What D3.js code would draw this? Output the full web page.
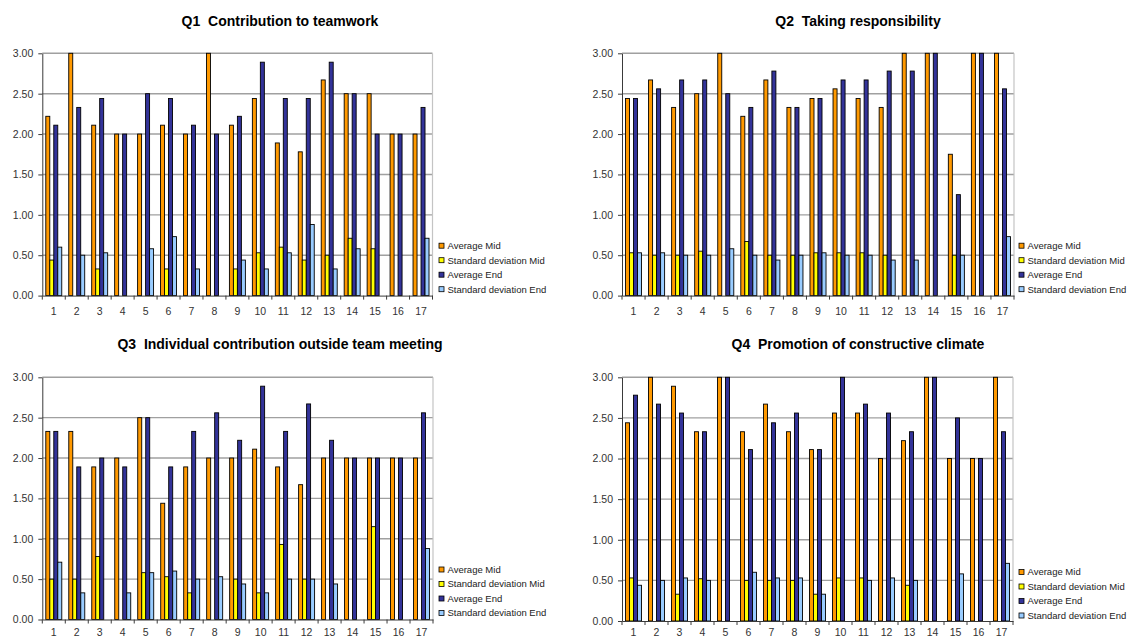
<!DOCTYPE html>
<html>
<head>
<meta charset="utf-8">
<script src="https://cdn.jsdelivr.net/npm/d3@7"></script>
<style>
  body { margin: 0; background: #fff; }
  svg { display: block; font-family: "Liberation Sans", Arial, sans-serif; }
</style>
</head>
<body>
<svg id="chart" width="1128" height="638"></svg>
<script>
// Students (x categories), series and axis ticks
const students = ["1","2","3","4","5","6","7","8","9","10","11","12","13","14","15","16","17"];
const seriesNames = ["Average Mid", "Standard deviation Mid", "Average End", "Standard deviation End"];
const seriesColors = ["#ff9900", "#ffff00", "#333399", "#99ccff"];
const yTicks = [0, 0.5, 1, 1.5, 2, 2.5, 3];

// Q1 Contribution to teamwork
const q1AvgMid = [2.22, 3.00, 2.11, 2.00, 2.00, 2.11, 2.00, 3.00, 2.11, 2.44, 1.89, 1.78, 2.67, 2.50, 2.50, 2.00, 2.00];
const q1SdMid  = [0.44, 0.00, 0.33, 0.00, 0.00, 0.33, 0.00, 0.00, 0.33, 0.53, 0.60, 0.44, 0.50, 0.71, 0.58, 0.00, 0.00];
const q1AvgEnd = [2.11, 2.33, 2.44, 2.00, 2.50, 2.44, 2.11, 2.00, 2.22, 2.89, 2.44, 2.44, 2.89, 2.50, 2.00, 2.00, 2.33];
const q1SdEnd  = [0.60, 0.50, 0.53, 0.00, 0.58, 0.73, 0.33, 0.00, 0.44, 0.33, 0.53, 0.88, 0.33, 0.58, 0.00, 0.00, 0.71];

// Q2 Taking responsibility
const q2AvgMid = [2.44, 2.67, 2.33, 2.50, 3.00, 2.22, 2.67, 2.33, 2.44, 2.56, 2.44, 2.33, 3.00, 3.00, 1.75, 3.00, 3.00];
const q2SdMid  = [0.53, 0.50, 0.50, 0.55, 0.00, 0.67, 0.50, 0.50, 0.53, 0.53, 0.53, 0.50, 0.00, 0.00, 0.50, 0.00, 0.00];
const q2AvgEnd = [2.44, 2.56, 2.67, 2.67, 2.50, 2.33, 2.78, 2.33, 2.44, 2.67, 2.67, 2.78, 2.78, 3.00, 1.25, 3.00, 2.56];
const q2SdEnd  = [0.53, 0.53, 0.50, 0.50, 0.58, 0.50, 0.44, 0.50, 0.53, 0.50, 0.50, 0.44, 0.44, 0.00, 0.50, 0.00, 0.73];

// Q3 Individual contribution outside team meeting
const q3AvgMid = [2.33, 2.33, 1.89, 2.00, 2.50, 1.44, 1.89, 2.00, 2.00, 2.11, 1.89, 1.67, 2.00, 2.00, 2.00, 2.00, 2.00];
const q3SdMid  = [0.50, 0.50, 0.78, 0.00, 0.58, 0.53, 0.33, 0.00, 0.50, 0.33, 0.93, 0.50, 0.00, 0.00, 1.15, 0.00, 0.00];
const q3AvgEnd = [2.33, 1.89, 2.00, 1.89, 2.50, 1.89, 2.33, 2.56, 2.22, 2.89, 2.33, 2.67, 2.22, 2.00, 2.00, 2.00, 2.56];
const q3SdEnd  = [0.71, 0.33, 0.00, 0.33, 0.58, 0.60, 0.50, 0.53, 0.44, 0.33, 0.50, 0.50, 0.44, 0.00, 0.00, 0.00, 0.88];

// Q4 Promotion of constructive climate
const q4AvgMid = [2.44, 3.00, 2.89, 2.33, 3.00, 2.33, 2.67, 2.33, 2.11, 2.56, 2.56, 2.00, 2.22, 3.00, 2.00, 2.00, 3.00];
const q4SdMid  = [0.53, 0.00, 0.33, 0.52, 0.00, 0.50, 0.50, 0.50, 0.33, 0.53, 0.53, 0.00, 0.44, 0.00, 0.00, 0.00, 0.00];
const q4AvgEnd = [2.78, 2.67, 2.56, 2.33, 3.00, 2.11, 2.44, 2.56, 2.11, 3.00, 2.67, 2.56, 2.33, 3.00, 2.50, 2.00, 2.33];
const q4SdEnd  = [0.44, 0.50, 0.53, 0.50, 0.00, 0.60, 0.53, 0.53, 0.33, 0.00, 0.50, 0.53, 0.50, 0.00, 0.58, 0.00, 0.71];

// Panel layout: plot box, title anchor and legend anchor
const panels = [
  { title: "Q1  Contribution to teamwork", series: [q1AvgMid, q1SdMid, q1AvgEnd, q1SdEnd],
    left: 42.3, right: 432.5, top: 53.3, bottom: 295.6, titleX: 280, titleY: 26, labelPad: 12,
    legendX: 439, legendY: [245.7, 260.2, 274.7, 289.2] },
  { title: "Q2  Taking responsibility", series: [q2AvgMid, q2SdMid, q2AvgEnd, q2SdEnd],
    left: 622, right: 1014, top: 53.3, bottom: 295.6, titleX: 858, titleY: 26, labelPad: 12,
    legendX: 1019, legendY: [245.7, 260.2, 274.7, 289.2] },
  { title: "Q3  Individual contribution outside team meeting", series: [q3AvgMid, q3SdMid, q3AvgEnd, q3SdEnd],
    left: 42.3, right: 433, top: 377.3, bottom: 619.5, titleX: 280, titleY: 349, labelPad: 9,
    legendX: 439, legendY: [569.5, 584, 598.5, 613] },
  { title: "Q4  Promotion of constructive climate", series: [q4AvgMid, q4SdMid, q4AvgEnd, q4SdEnd],
    left: 622, right: 1013, top: 377.3, bottom: 621, titleX: 858, titleY: 349, labelPad: 8,
    legendX: 1019, legendY: [572, 586.5, 601, 615.5] }
];

const svg = d3.select("#chart");

panels.forEach(p => {
  const g = svg.append("g");

  const y = d3.scaleLinear().domain([0, 3]).range([p.bottom, p.top]);
  const x0 = d3.scaleBand().domain(students).range([p.left, p.right]).padding(0);
  const x1 = d3.scaleBand().domain(seriesNames).range([0, x0.bandwidth()])
    .paddingInner(0).paddingOuter(0.875);

  // title (keeps the double space after the question number)
  g.append("text")
    .attr("x", p.titleX).attr("y", p.titleY)
    .attr("text-anchor", "middle")
    .style("white-space", "pre")
    .attr("font-weight", "bold").attr("font-size", "14px").attr("fill", "#000")
    .text(p.title);

  // horizontal gridlines
  g.append("g").selectAll("line")
    .data(yTicks.filter(t => t > 0))
    .join("line")
    .attr("x1", p.left).attr("x2", p.right)
    .attr("y1", d => y(d)).attr("y2", d => y(d))
    .attr("stroke", "#a0a0a0").attr("stroke-width", 1.4);

  // plot area right edge
  g.append("line")
    .attr("x1", p.right).attr("x2", p.right)
    .attr("y1", p.top).attr("y2", p.bottom)
    .attr("stroke", "#c4c4c4").attr("stroke-width", 1.2);

  // bars
  const rows = [];
  students.forEach((s, i) => {
    seriesNames.forEach((name, k) => {
      rows.push({ student: s, name: name, color: seriesColors[k], value: p.series[k][i] });
    });
  });
  g.append("g").selectAll("rect")
    .data(rows.filter(d => d.value > 0))
    .join("rect")
    .attr("x", d => x0(d.student) + x1(d.name))
    .attr("y", d => y(d.value))
    .attr("width", x1.bandwidth())
    .attr("height", d => y(0) - y(d.value))
    .attr("fill", d => d.color)
    .attr("stroke", "#000").attr("stroke-width", 0.9);

  // y axis
  const yAxis = g.append("g")
    .attr("transform", `translate(${p.left},0)`)
    .call(d3.axisLeft(y).tickValues(yTicks).tickFormat(d3.format(".2f"))
      .tickSize(4).tickSizeOuter(0).tickPadding(5));
  yAxis.select(".domain").attr("stroke", "#3a3a3a");
  yAxis.selectAll(".tick line").attr("stroke", "#3a3a3a");
  yAxis.selectAll(".tick text")
    .attr("font-size", "10.5px").attr("fill", "#333")
    .attr("font-family", "Liberation Sans, Arial, sans-serif");

  // x axis: baseline, tick marks at category boundaries, labels centered
  const xAxis = g.append("g")
    .attr("transform", `translate(0,${p.bottom})`)
    .call(d3.axisBottom(x0).tickSize(0).tickSizeOuter(0).tickPadding(p.labelPad));
  xAxis.select(".domain").attr("stroke", "#3a3a3a");
  xAxis.selectAll(".tick text")
    .attr("font-size", "10.5px").attr("fill", "#333")
    .attr("font-family", "Liberation Sans, Arial, sans-serif");
  xAxis.append("g").selectAll("line")
    .data(students.map(s => x0(s)).concat([p.right]))
    .join("line")
    .attr("x1", d => d).attr("x2", d => d)
    .attr("y1", 0).attr("y2", 4)
    .attr("stroke", "#3a3a3a");

  // legend
  const lg = g.append("g");
  seriesNames.forEach((name, k) => {
    lg.append("rect")
      .attr("x", p.legendX).attr("y", p.legendY[k] - 2.5)
      .attr("width", 5).attr("height", 5)
      .attr("fill", seriesColors[k]).attr("stroke", "#000").attr("stroke-width", 0.8);
    lg.append("text")
      .attr("x", p.legendX + 8.5).attr("y", p.legendY[k])
      .attr("dy", "0.35em")
      .attr("font-size", "9.5px").attr("fill", "#222")
      .text(name);
  });
});
</script>
</body>
</html>
